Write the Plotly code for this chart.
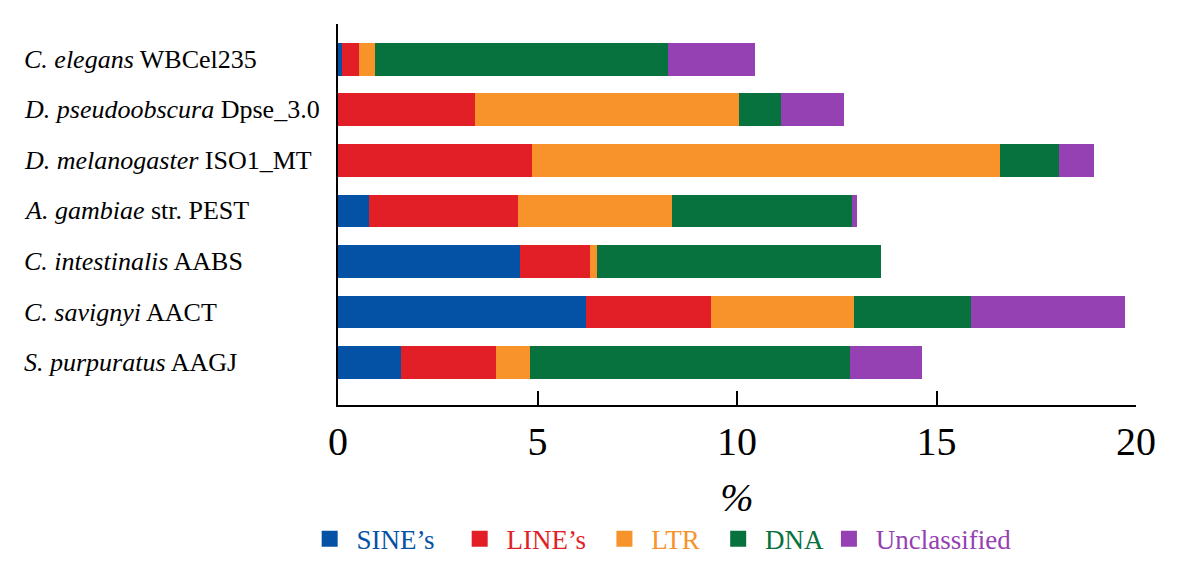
import plotly.graph_objs as go

# genomes, top to bottom
genomes = [
    "<i>C. elegans</i> WBCel235",
    "<i>D. pseudoobscura</i> Dpse_3.0",
    "<i>D. melanogaster</i> ISO1_MT",
    "<i>A. gambiae</i> str. PEST",
    "<i>C. intestinalis</i> AABS",
    "<i>C. savignyi</i> AACT",
    "<i>S. purpuratus</i> AAGJ",
]

# percent of genome per repeat class
sines = [0.10, 0.00, 0.00, 0.78, 4.55, 6.21, 1.57]
lines = [0.42, 3.43, 4.85, 3.72, 1.76, 3.14, 2.40]
ltr = [0.40, 6.63, 11.74, 3.87, 0.19, 3.57, 0.83]
dna = [7.35, 1.04, 1.49, 4.52, 7.11, 2.95, 8.03]
unclassified = [2.19, 1.59, 0.87, 0.12, 0.00, 3.86, 1.81]

classes = ["SINE’s", "LINE’s", "LTR", "DNA", "Unclassified"]
colors = ["#0452a6", "#e21f26", "#f8922a", "#08723e", "#9541b3"]
# extra room after each legend entry
pads = [3, 2, 2, 0, 0]

FONT = "Liberation Serif"
NB = "\u00a0"

idx = list(range(len(genomes)))
traces = []
for name, vals, col in zip(classes, [sines, lines, ltr, dna, unclassified], colors):
    traces.append(go.Bar(
        x=vals, y=idx, orientation="h", name=name, legendgroup=name,
        marker=dict(color=col, line=dict(width=0)), showlegend=False,
    ))

# legend entries with bigger square swatches
for name, col, p in zip(classes, colors, pads):
    traces.append(go.Scatter(
        x=[None], y=[None], mode="markers", legendgroup=name,
        name=NB + f"<span style='color:{col}'>{name}</span>" + NB * p,
        marker=dict(symbol="square", size=18, color=col),
    ))

layout = go.Layout(
    barmode="stack",
    bargap=0.35,
    width=1181, height=573,
    margin=dict(l=330, r=53, t=16, b=176),
    paper_bgcolor="white", plot_bgcolor="white",
    font=dict(family=FONT, color="black"),
    xaxis=dict(
        range=[0, 20], tickvals=[0, 5, 10, 15, 20],
        showline=True, linecolor="black", linewidth=2,
        ticks="inside", ticklen=14, tickwidth=2, tickcolor="black",
        showgrid=False, zeroline=False,
        tickfont=dict(size=40, family=FONT),
        title=dict(text="<i>%</i>", font=dict(size=40, family=FONT), standoff=20),
    ),
    yaxis=dict(
        range=[6.84, -0.7], showticklabels=False, ticks="",
        showline=True, linecolor="black", linewidth=2,
        showgrid=False, zeroline=False,
    ),
    legend=dict(
        orientation="h", x=-0.0355, xanchor="left", y=-0.352, yanchor="middle",
        font=dict(size=27, family=FONT), traceorder="normal",
        itemclick=False, itemdoubleclick=False,
    ),
    showlegend=True,
)

fig = go.Figure(data=traces, layout=layout)

# left-aligned genome labels
for i, g in zip(idx, genomes):
    fig.add_annotation(
        x=0, xref="paper", y=i, yref="y", text=g, showarrow=False,
        xanchor="left", xshift=-316, font=dict(size=26, family=FONT, color="black"),
    )

fig.write_html("out.html")
